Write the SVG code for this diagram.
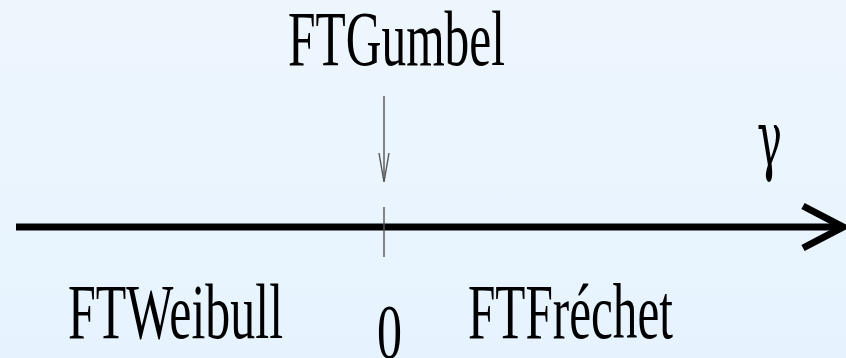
<svg xmlns="http://www.w3.org/2000/svg" width="846" height="358" viewBox="0 0 846 358">
<defs>
<linearGradient id="bg" x1="0" y1="0" x2="0" y2="1">
<stop offset="0" stop-color="#eef6fd"/>
<stop offset="1" stop-color="#e6f3fe"/>
</linearGradient>
<style>
text{font-family:'Liberation Serif','Times New Roman',serif;font-size:78px;fill:#000}
text.greek{font-family:'DejaVu Serif',serif}
.thin{stroke:#555;stroke-width:1.4;fill:none}
.axis{stroke:#000;stroke-width:7;fill:none}
</style>
</defs>
<rect width="846" height="358" fill="url(#bg)"/>
<g id="connectors">
<line class="axis" x1="16" y1="227" x2="842" y2="227"/>
<polyline class="axis" points="803,206 843,227 803,248" stroke-linejoin="miter"/>
<line class="thin" x1="384" y1="207" x2="384" y2="257"/>
<line class="thin" x1="384" y1="96" x2="384" y2="181"/>
<polyline class="thin" points="379,153 384,182 389,153"/>
</g>
<g id="gumbel"><text x="288" y="65" textLength="217" lengthAdjust="spacingAndGlyphs">FTGumbel</text></g>
<g id="weibull"><text x="68" y="338" textLength="215" lengthAdjust="spacingAndGlyphs">FTWeibull</text></g>
<g id="frechet"><text x="468" y="338" textLength="205" lengthAdjust="spacingAndGlyphs">FTFréchet</text></g>
<g id="zero"><text x="377" y="358" textLength="25" lengthAdjust="spacingAndGlyphs">0</text></g>
<g id="gamma"><text class="greek" x="757" y="166" textLength="25" lengthAdjust="spacingAndGlyphs">γ</text></g>
</svg>
